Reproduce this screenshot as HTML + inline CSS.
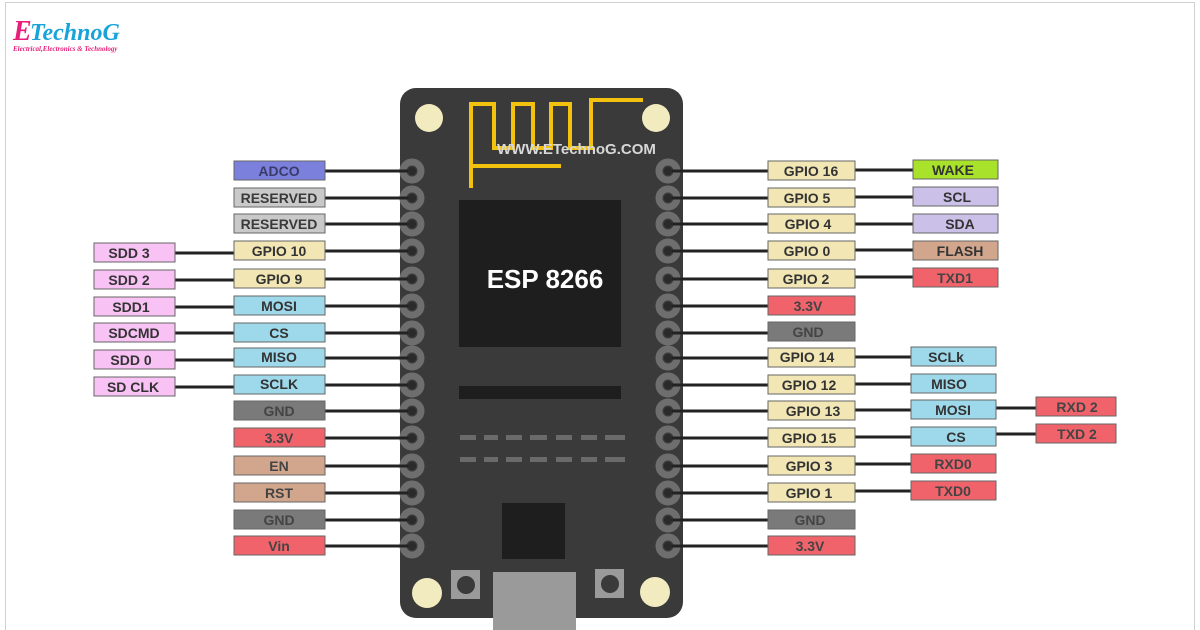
<!DOCTYPE html>
<html><head><meta charset="utf-8"><style>
body{margin:0;background:#fff;}
svg{display:block}
text{font-family:"Liberation Sans",sans-serif;font-weight:bold;}
</style></head><body>
<svg width="1200" height="630" viewBox="0 0 1200 630" xmlns="http://www.w3.org/2000/svg">
<rect x="5.5" y="2.5" width="1189" height="640" fill="#fff" stroke="#d0d0d0"/>
<text x="13" y="40" font-style="italic" font-size="28" fill="#e91e7a" style="font-family:'Liberation Serif'">E</text>
<text x="30" y="40" font-style="italic" font-size="24" fill="#1aa3d8" style="font-family:'Liberation Serif'">TechnoG</text>
<text x="13" y="51" font-size="7" font-style="italic" fill="#e91e7a" style="font-family:'Liberation Serif'">Electrical,Electronics &amp; Technology</text>

<rect x="400" y="88" width="283" height="530" rx="16" fill="#3a3a3a"/>
<circle cx="429" cy="118" r="14" fill="#f1ebbf"/>
<circle cx="656" cy="118" r="14" fill="#f1ebbf"/>
<circle cx="427" cy="593" r="15" fill="#f1ebbf"/>
<circle cx="655" cy="592" r="15" fill="#f1ebbf"/>
<polyline points="471,188 471,104 494,104 494,148 513,148 513,104 533,104 533,148 551,148 551,104 570,104 570,148 591,148 591,100 643,100" fill="none" stroke="#f3c20f" stroke-width="4"/>
<polyline points="473,166 561,166" fill="none" stroke="#f3c20f" stroke-width="4"/>
<text x="497" y="154" font-size="15" fill="#d8d8d8">WWW.ETechnoG.COM</text>
<rect x="459" y="200" width="162" height="147" fill="#1e1e1e"/>
<text x="545" y="288" font-size="26" fill="#fff" text-anchor="middle">ESP 8266</text>
<rect x="459" y="386" width="162" height="13" fill="#1e1e1e"/>
<g fill="#6a6a6a">
<rect x="460" y="435" width="16" height="5"/><rect x="484" y="435" width="14" height="5"/><rect x="506" y="435" width="16" height="5"/><rect x="530" y="435" width="17" height="5"/><rect x="556" y="435" width="16" height="5"/><rect x="581" y="435" width="16" height="5"/><rect x="605" y="435" width="20" height="5"/>
<rect x="460" y="457" width="16" height="5"/><rect x="484" y="457" width="14" height="5"/><rect x="506" y="457" width="16" height="5"/><rect x="530" y="457" width="17" height="5"/><rect x="556" y="457" width="16" height="5"/><rect x="581" y="457" width="16" height="5"/><rect x="605" y="457" width="20" height="5"/>
</g>
<rect x="502" y="503" width="63" height="56" fill="#1e1e1e"/>
<rect x="451" y="570" width="29" height="29" fill="#9a9a9a"/><circle cx="466" cy="585" r="9" fill="#3a3a3a"/>
<rect x="595" y="569" width="29" height="29" fill="#9a9a9a"/><circle cx="610" cy="584" r="9" fill="#3a3a3a"/>
<rect x="493" y="572" width="83" height="60" fill="#9a9a9a"/>

<g fill="none" stroke="#6e6e6e" stroke-width="7">
<circle cx="412" cy="171" r="9"/><circle cx="412" cy="198" r="9"/><circle cx="412" cy="224" r="9"/><circle cx="412" cy="251" r="9"/><circle cx="412" cy="279" r="9"/><circle cx="412" cy="306" r="9"/><circle cx="412" cy="333" r="9"/><circle cx="412" cy="358" r="9"/><circle cx="412" cy="385" r="9"/><circle cx="412" cy="411" r="9"/><circle cx="412" cy="438" r="9"/><circle cx="412" cy="466" r="9"/><circle cx="412" cy="493" r="9"/><circle cx="412" cy="520" r="9"/><circle cx="412" cy="546" r="9"/>
<circle cx="668" cy="171" r="9"/><circle cx="668" cy="198" r="9"/><circle cx="668" cy="224" r="9"/><circle cx="668" cy="251" r="9"/><circle cx="668" cy="279" r="9"/><circle cx="668" cy="306" r="9"/><circle cx="668" cy="333" r="9"/><circle cx="668" cy="358" r="9"/><circle cx="668" cy="385" r="9"/><circle cx="668" cy="411" r="9"/><circle cx="668" cy="438" r="9"/><circle cx="668" cy="466" r="9"/><circle cx="668" cy="493" r="9"/><circle cx="668" cy="520" r="9"/><circle cx="668" cy="546" r="9"/>
</g>

<g stroke="#222" stroke-width="3">
<line x1="325" y1="171" x2="412" y2="171"/><line x1="325" y1="198" x2="412" y2="198"/><line x1="325" y1="224" x2="412" y2="224"/><line x1="325" y1="251" x2="412" y2="251"/><line x1="325" y1="279" x2="412" y2="279"/><line x1="325" y1="306" x2="412" y2="306"/><line x1="325" y1="333" x2="412" y2="333"/><line x1="325" y1="358" x2="412" y2="358"/><line x1="325" y1="385" x2="412" y2="385"/><line x1="325" y1="411" x2="412" y2="411"/><line x1="325" y1="438" x2="412" y2="438"/><line x1="325" y1="466" x2="412" y2="466"/><line x1="325" y1="493" x2="412" y2="493"/><line x1="325" y1="520" x2="412" y2="520"/><line x1="325" y1="546" x2="412" y2="546"/>
<line x1="175" y1="253" x2="234" y2="253"/><line x1="175" y1="280" x2="234" y2="280"/><line x1="175" y1="307" x2="234" y2="307"/><line x1="175" y1="333" x2="234" y2="333"/><line x1="175" y1="360" x2="234" y2="360"/><line x1="175" y1="387" x2="234" y2="387"/>
<line x1="668" y1="171" x2="768" y2="171"/><line x1="668" y1="198" x2="768" y2="198"/><line x1="668" y1="224" x2="768" y2="224"/><line x1="668" y1="251" x2="768" y2="251"/><line x1="668" y1="279" x2="768" y2="279"/><line x1="668" y1="306" x2="768" y2="306"/><line x1="668" y1="333" x2="768" y2="333"/><line x1="668" y1="358" x2="768" y2="358"/><line x1="668" y1="385" x2="768" y2="385"/><line x1="668" y1="411" x2="768" y2="411"/><line x1="668" y1="438" x2="768" y2="438"/><line x1="668" y1="466" x2="768" y2="466"/><line x1="668" y1="493" x2="768" y2="493"/><line x1="668" y1="520" x2="768" y2="520"/><line x1="668" y1="546" x2="768" y2="546"/>
<line x1="855" y1="170" x2="913" y2="170"/><line x1="855" y1="197" x2="913" y2="197"/><line x1="855" y1="224" x2="913" y2="224"/><line x1="855" y1="250" x2="913" y2="250"/><line x1="855" y1="277" x2="913" y2="277"/>
<line x1="855" y1="357" x2="911" y2="357"/><line x1="855" y1="384" x2="911" y2="384"/><line x1="855" y1="410" x2="911" y2="410"/><line x1="855" y1="437" x2="911" y2="437"/><line x1="855" y1="464" x2="911" y2="464"/><line x1="855" y1="491" x2="911" y2="491"/>
<line x1="996" y1="408" x2="1036" y2="408"/><line x1="996" y1="434" x2="1036" y2="434"/>
</g>
<g fill="#2a2a2a">
<circle cx="412" cy="171" r="4"/><circle cx="412" cy="198" r="4"/><circle cx="412" cy="224" r="4"/><circle cx="412" cy="251" r="4"/><circle cx="412" cy="279" r="4"/><circle cx="412" cy="306" r="4"/><circle cx="412" cy="333" r="4"/><circle cx="412" cy="358" r="4"/><circle cx="412" cy="385" r="4"/><circle cx="412" cy="411" r="4"/><circle cx="412" cy="438" r="4"/><circle cx="412" cy="466" r="4"/><circle cx="412" cy="493" r="4"/><circle cx="412" cy="520" r="4"/><circle cx="412" cy="546" r="4"/>
<circle cx="668" cy="171" r="4"/><circle cx="668" cy="198" r="4"/><circle cx="668" cy="224" r="4"/><circle cx="668" cy="251" r="4"/><circle cx="668" cy="279" r="4"/><circle cx="668" cy="306" r="4"/><circle cx="668" cy="333" r="4"/><circle cx="668" cy="358" r="4"/><circle cx="668" cy="385" r="4"/><circle cx="668" cy="411" r="4"/><circle cx="668" cy="438" r="4"/><circle cx="668" cy="466" r="4"/><circle cx="668" cy="493" r="4"/><circle cx="668" cy="520" r="4"/><circle cx="668" cy="546" r="4"/>
</g>

<g stroke="#666" stroke-width="1" font-size="14" text-anchor="middle">
<rect x="234" y="161" width="91" height="19" fill="#7b80dc"/><text x="279" y="176" fill="#3b3b6a" stroke="none">ADCO</text>
<rect x="234" y="188" width="91" height="19" fill="#c9c9c9"/><text x="279" y="203" fill="#3a3a3a" stroke="none">RESERVED</text>
<rect x="234" y="214" width="91" height="19" fill="#c9c9c9"/><text x="279" y="229" fill="#3a3a3a" stroke="none">RESERVED</text>
<rect x="234" y="241" width="91" height="19" fill="#f1e6b4"/><text x="279" y="256" fill="#333" stroke="none">GPIO 10</text>
<rect x="234" y="269" width="91" height="19" fill="#f1e6b4"/><text x="279" y="284" fill="#333" stroke="none">GPIO 9</text>
<rect x="234" y="296" width="91" height="19" fill="#9ed9eb"/><text x="279" y="311" fill="#333" stroke="none">MOSI</text>
<rect x="234" y="323" width="91" height="19" fill="#9ed9eb"/><text x="279" y="338" fill="#333" stroke="none">CS</text>
<rect x="234" y="348" width="91" height="19" fill="#9ed9eb"/><text x="279" y="362" fill="#333" stroke="none">MISO</text>
<rect x="234" y="375" width="91" height="19" fill="#9ed9eb"/><text x="279" y="389" fill="#333" stroke="none">SCLK</text>
<rect x="234" y="401" width="91" height="19" fill="#7a7a7a"/><text x="279" y="416" fill="#444" stroke="none">GND</text>
<rect x="234" y="428" width="91" height="19" fill="#f0636b"/><text x="279" y="443" fill="#444" stroke="none">3.3V</text>
<rect x="234" y="456" width="91" height="19" fill="#d2a68d"/><text x="279" y="471" fill="#444" stroke="none">EN</text>
<rect x="234" y="483" width="91" height="19" fill="#d2a68d"/><text x="279" y="498" fill="#444" stroke="none">RST</text>
<rect x="234" y="510" width="91" height="19" fill="#7a7a7a"/><text x="279" y="525" fill="#444" stroke="none">GND</text>
<rect x="234" y="536" width="91" height="19" fill="#f0636b"/><text x="279" y="551" fill="#444" stroke="none">Vin</text>
<rect x="94" y="243" width="81" height="19" fill="#f9c2f5"/><text x="129" y="258" fill="#333" stroke="none">SDD 3</text>
<rect x="94" y="270" width="81" height="19" fill="#f9c2f5"/><text x="129" y="285" fill="#333" stroke="none">SDD 2</text>
<rect x="94" y="297" width="81" height="19" fill="#f9c2f5"/><text x="131" y="312" fill="#333" stroke="none">SDD1</text>
<rect x="94" y="323" width="81" height="19" fill="#f9c2f5"/><text x="134" y="338" fill="#333" stroke="none">SDCMD</text>
<rect x="94" y="350" width="81" height="19" fill="#f9c2f5"/><text x="131" y="365" fill="#333" stroke="none">SDD 0</text>
<rect x="94" y="377" width="81" height="19" fill="#f9c2f5"/><text x="133" y="392" fill="#333" stroke="none">SD CLK</text>
<rect x="768" y="161" width="87" height="19" fill="#f1e6b4"/><text x="811" y="176" fill="#333" stroke="none">GPIO 16</text>
<rect x="768" y="188" width="87" height="19" fill="#f1e6b4"/><text x="807" y="203" fill="#333" stroke="none">GPIO 5</text>
<rect x="768" y="214" width="87" height="19" fill="#f1e6b4"/><text x="808" y="229" fill="#333" stroke="none">GPIO 4</text>
<rect x="768" y="241" width="87" height="19" fill="#f1e6b4"/><text x="807" y="256" fill="#333" stroke="none">GPIO 0</text>
<rect x="768" y="269" width="87" height="19" fill="#f1e6b4"/><text x="806" y="284" fill="#333" stroke="none">GPIO 2</text>
<rect x="768" y="296" width="87" height="19" fill="#f0636b"/><text x="808" y="311" fill="#444" stroke="none">3.3V</text>
<rect x="768" y="322" width="87" height="19" fill="#7a7a7a"/><text x="808" y="337" fill="#444" stroke="none">GND</text>
<rect x="768" y="348" width="87" height="19" fill="#f1e6b4"/><text x="807" y="362" fill="#333" stroke="none">GPIO 14</text>
<rect x="768" y="375" width="87" height="19" fill="#f1e6b4"/><text x="809" y="390" fill="#333" stroke="none">GPIO 12</text>
<rect x="768" y="401" width="87" height="19" fill="#f1e6b4"/><text x="813" y="416" fill="#333" stroke="none">GPIO 13</text>
<rect x="768" y="428" width="87" height="19" fill="#f1e6b4"/><text x="809" y="443" fill="#333" stroke="none">GPIO 15</text>
<rect x="768" y="456" width="87" height="19" fill="#f1e6b4"/><text x="809" y="471" fill="#333" stroke="none">GPIO 3</text>
<rect x="768" y="483" width="87" height="19" fill="#f1e6b4"/><text x="809" y="498" fill="#333" stroke="none">GPIO 1</text>
<rect x="768" y="510" width="87" height="19" fill="#7a7a7a"/><text x="810" y="525" fill="#444" stroke="none">GND</text>
<rect x="768" y="536" width="87" height="19" fill="#f0636b"/><text x="810" y="551" fill="#444" stroke="none">3.3V</text>
<rect x="913" y="160" width="85" height="19" fill="#a8e22a"/><text x="953" y="175" fill="#333" stroke="none">WAKE</text>
<rect x="913" y="187" width="85" height="19" fill="#cbc0e8"/><text x="957" y="202" fill="#333" stroke="none">SCL</text>
<rect x="913" y="214" width="85" height="19" fill="#cbc0e8"/><text x="960" y="229" fill="#333" stroke="none">SDA</text>
<rect x="913" y="241" width="85" height="19" fill="#d2a68d"/><text x="960" y="256" fill="#333" stroke="none">FLASH</text>
<rect x="913" y="268" width="85" height="19" fill="#f0636b"/><text x="955" y="283" fill="#444" stroke="none">TXD1</text>
<rect x="911" y="347" width="85" height="19" fill="#9ed9eb"/><text x="946" y="362" fill="#333" stroke="none">SCLk</text>
<rect x="911" y="374" width="85" height="19" fill="#9ed9eb"/><text x="949" y="389" fill="#333" stroke="none">MISO</text>
<rect x="911" y="400" width="85" height="19" fill="#9ed9eb"/><text x="953" y="415" fill="#333" stroke="none">MOSI</text>
<rect x="911" y="427" width="85" height="19" fill="#9ed9eb"/><text x="956" y="442" fill="#333" stroke="none">CS</text>
<rect x="911" y="454" width="85" height="19" fill="#f0636b"/><text x="953" y="469" fill="#444" stroke="none">RXD0</text>
<rect x="911" y="481" width="85" height="19" fill="#f0636b"/><text x="953" y="496" fill="#444" stroke="none">TXD0</text>
<rect x="1036" y="397" width="80" height="19" fill="#f0636b"/><text x="1077" y="412" fill="#444" stroke="none">RXD 2</text>
<rect x="1036" y="424" width="80" height="19" fill="#f0636b"/><text x="1077" y="439" fill="#444" stroke="none">TXD 2</text>
</g>
</svg>
</body></html>
